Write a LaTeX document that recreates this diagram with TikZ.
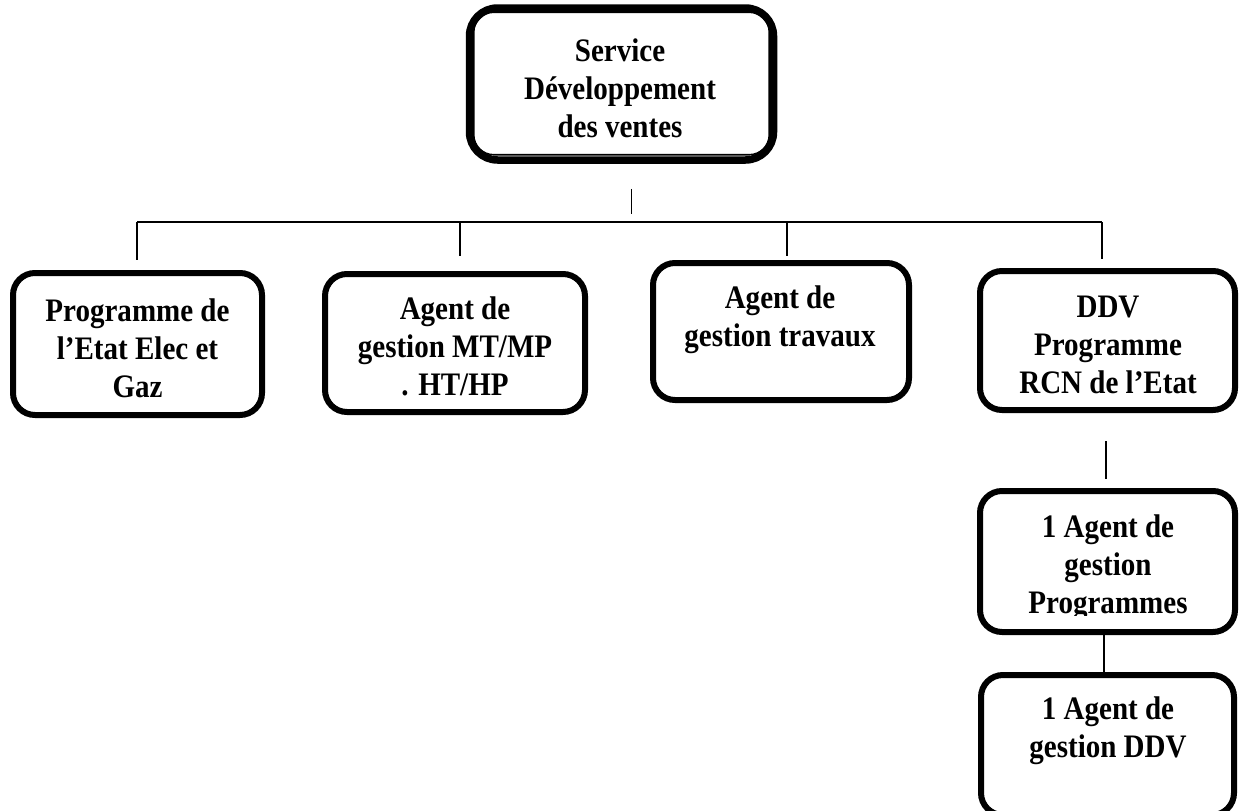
\documentclass[tikz,border=0pt]{standalone}
\usepackage{fontspec}
% a slightly condensed, taller serif for the unit names
\setmainfont{Liberation Serif}[FakeStretch=0.885]
\usetikzlibrary{calc}
\begin{document}
\begin{tikzpicture}[x=1pt,y=-1pt,
  unitbox/.style={draw=black, line width=6pt, rounded corners=22pt, inner sep=0pt,
    minimum width=#1},
  unitbox/.default=255pt,
  label text/.style={font=\fontsize{32.8}{38}\selectfont\bfseries, align=center,
    inner sep=0pt, anchor=base},
  link/.style={draw=black, line width=1.8pt}]
\useasboundingbox (0,0) rectangle (1240,811);

% head of the service: thick outer frame with a thin inner frame
\node[draw=black, line width=7.5pt, rounded corners=28pt, inner sep=0pt,
      minimum width=304pt, minimum height=152pt] (srv) at (621.5,84) {};
\draw[line width=1.6pt, rounded corners=20pt]
  ($(srv.north west)+(8,8)$) rectangle ($(srv.south east)+(-8,-9)$);
% texts are placed by the baseline of their last line
\node[label text] (srvt) at (620,137) {Service\\Développement\\des ventes};

% second level units
\node[unitbox=249pt, minimum height=142pt] (b1) at (137.5,344) {};
\node[unitbox=260pt, minimum height=138pt] (b2) at (455,343) {};
\node[unitbox=256pt, minimum height=137pt] (b3) at (781,331.5) {};
\node[unitbox=255pt, minimum height=139pt] (b4) at (1107.5,340.5) {};
\node[label text] (b1t) at (137.5,397) {Programme de\\l’Etat Elec et\\Gaz};
\node[label text] (b2t) at (455,395) {Agent de\\gestion MT/MP\\. HT/HP};
\node[label text] (b3t) at (780,346) {Agent de\\gestion travaux};
\node[label text] (b4t) at (1108,393) {DDV\\Programme\\RCN de l’Etat};

% agents under the DDV programme
\node[unitbox=255pt, minimum height=141pt] (b5) at (1107.5,561.5) {};
\node[unitbox=253pt, minimum height=140pt] (b6) at (1107.5,745) {};
\begin{scope}
  \clip (980,491) rectangle (1235,615);
  \node[label text] (b5t) at (1108,613) {1 Agent de\\gestion\\Programmes};
\end{scope}
\node[label text] (b6t) at (1108,757) {1 Agent de\\gestion DDV};

% connectors
\coordinate (busL) at ($(b1.north)+(-0.5,-48)$);
\coordinate (busR) at ($(b4.north)+(-5.5,-46)$);
\draw[link] ($(srv.south)+(10,25)$) -- ($(srv.south)+(10,50)$);
\draw[link, line width=1.5pt] (busL) -- (busR);
\draw[link] (busL) -- ($(b1.north)+(-0.5,-10)$);
\draw[link] ($(b2.north)+(5,-49)$) -- ($(b2.north)+(5,-15)$);
\draw[link] ($(b3.north)+(6,-38)$) -- ($(b3.north)+(6,-4)$);
\draw[link] (busR) -- ($(b4.north)+(-5.5,-9)$);
\draw[link] ($(b4.south)+(-1.5,28)$) -- ($(b5.north)+(-1.5,-9)$);
\draw[link] ($(b5.south)+(-3.5,-5)$) -- ($(b6.north)+(-3.5,2)$);
\end{tikzpicture}
\end{document}
